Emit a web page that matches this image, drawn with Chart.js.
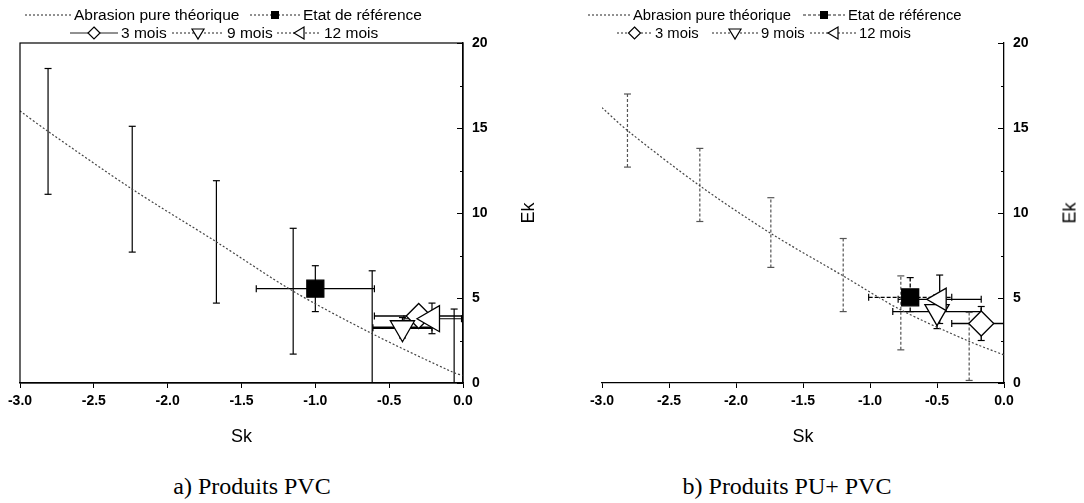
<!DOCTYPE html>
<html>
<head>
<meta charset="utf-8">
<script src="https://cdn.jsdelivr.net/npm/chart.js@4/dist/chart.umd.min.js"></script>
<style>
  body { margin: 0; background: #fff; width: 1084px; height: 503px; overflow: hidden; position: relative;
         font-family: "Liberation Sans", Arial, sans-serif; color: #000; }
  .box { position: absolute; top: 0; }
  .leg { position: absolute; white-space: nowrap; display: flex; align-items: center; line-height: 18px; }
  .leg svg { margin-right: 3px; }
  .ek { position: absolute; font-size: 18px; transform: translate(-50%, -50%) rotate(-90deg); }
  .cap { position: absolute; font-family: "Liberation Serif", "Times New Roman", serif; font-size: 24px;
         transform: translate(-50%, -50%); white-space: nowrap; }
</style>
</head>
<body>
<div class="box" style="left:0px"><canvas id="chartA" width="545" height="460"></canvas></div>
<div class="box" style="left:540px"><canvas id="chartB" width="544" height="460"></canvas></div>
<div class="ek" style="left:528px; top:213px">Ek</div>
<div class="ek" style="left:1070px; top:213px">Ek</div>
<div class="cap" style="left:252px; top:486px">a) Produits PVC</div>
<div class="cap" style="left:787px; top:486px">b) Produits PU+ PVC</div>

<script>
// axes
const xTickLabels = ['-3.0', '-2.5', '-2.0', '-1.5', '-1.0', '-0.5', '0.0'];
const yMajor = [0, 5, 10, 15, 20];
const yMinor = [2.5, 7.5, 12.5, 17.5];

// a) Produits PVC
const curveSkA = [-3.0, -2.81, -2.24, -1.67, -1.15, -0.615, -0.06, 0.0];
const curveEkA = [16.0, 14.8, 11.4, 8.3, 5.4, 2.9, 0.6, 0.45];
const theoSkA = [-2.81, -2.24, -1.67, -1.15, -0.615, -0.06];
const theoEkA = [14.8, 11.4, 8.3, 5.4, 2.9, 0.6];
const theoLoA = [11.1, 7.7, 4.7, 1.7, -0.8, -3.1];
const theoHiA = [18.5, 15.1, 11.9, 9.1, 6.6, 4.35];
// [Sk, Ek, SkLo, SkHi, EkLo, EkHi]
const refA = [-1.0, 5.55, -1.40, -0.60, 4.2, 6.9];
const m3A = [-0.30, 3.94, -0.60, 0.0, 3.45, 4.45];
const m9A = [-0.41, 3.25, -0.61, -0.21, 2.65, 3.85];
const m12A = [-0.21, 3.78, -0.40, -0.01, 2.9, 4.7];

// b) Produits PU+ PVC
const curveSkB = [-3.0, -2.81, -2.27, -1.74, -1.2, -0.77, -0.26, 0.0];
const curveEkB = [16.2, 14.85, 11.6, 8.8, 6.3, 4.3, 2.45, 1.65];
const theoSkB = [-2.81, -2.27, -1.74, -1.2, -0.77, -0.26];
const theoEkB = [14.85, 11.65, 8.85, 6.35, 4.1, 2.15];
const theoLoB = [12.7, 9.5, 6.8, 4.2, 1.95, 0.15];
const theoHiB = [17.0, 13.8, 10.9, 8.5, 6.3, 4.15];
const refB = [-0.70, 5.04, -1.01, -0.39, 4.2, 6.2];
const m3B = [-0.17, 3.5, -0.39, 0.05, 2.5, 4.5];
const m9B = [-0.50, 4.2, -0.83, -0.17, 3.2, 5.2];
const m12B = [-0.48, 4.92, -0.79, -0.17, 3.5, 6.35];

const legendNames = ['Abrasion pure théorique', 'Etat de référence', '3 mois', '9 mois', '12 mois'];

// error bars, drawn under the markers
const errorBars = {
  id: 'errorBars',
  beforeDatasetsDraw(chart) {
    const { ctx, chartArea: a, scales: { x, y } } = chart;
    ctx.save();
    ctx.beginPath();
    ctx.rect(a.left, a.top - 3, a.right - a.left, a.bottom - a.top + 3);
    ctx.clip();
    chart.data.datasets.forEach(ds => {
      const e = ds.err;
      if (!e) return;
      ctx.strokeStyle = e.color;
      ds.data.forEach((p, i) => {
        const px = x.getPixelForValue(p.x), py = y.getPixelForValue(p.y);
        const seg = (x1, y1, x2, y2, dash, w) => {
          ctx.setLineDash(dash); ctx.lineWidth = w;
          ctx.beginPath(); ctx.moveTo(x1, y1); ctx.lineTo(x2, y2); ctx.stroke();
        };
        if (e.yLo) {
          const y1 = y.getPixelForValue(e.yLo[i]), y2 = y.getPixelForValue(e.yHi[i]);
          seg(px, y1, px, y2, e.dash, e.width);
          seg(px - 3.5, y1, px + 3.5, y1, [], 1.2);
          seg(px - 3.5, y2, px + 3.5, y2, [], 1.2);
        }
        if (e.xLo) {
          const x1 = x.getPixelForValue(e.xLo[i]), x2 = x.getPixelForValue(e.xHi[i]);
          seg(x1, py, x2, py, e.dash, e.hwidth || e.width);
          seg(x1, py - 3.5, x1, py + 3.5, [], 1.2);
          seg(x2, py - 3.5, x2, py + 3.5, [], 1.2);
        }
      });
    });
    ctx.restore();
  }
};

// inward ticks on the right axis, optional frame
const axisDeco = {
  id: 'axisDeco',
  afterDraw(chart, args, opts) {
    const { ctx, chartArea: a, scales: { y } } = chart;
    ctx.save();
    ctx.strokeStyle = '#000';
    ctx.lineWidth = 1;
    ctx.setLineDash([]);
    const tick = (v, len) => {
      const py = Math.round(y.getPixelForValue(v)) + 0.5;
      ctx.beginPath(); ctx.moveTo(a.right - len, py); ctx.lineTo(a.right, py); ctx.stroke();
    };
    yMajor.forEach(v => tick(v, 6));
    yMinor.forEach(v => tick(v, 3));
    if (opts.frame) {
      ctx.lineWidth = 1.2;
      ctx.strokeRect(a.left, a.top, a.right - a.left, a.bottom - a.top);
    }
    ctx.restore();
  }
};

function pts(xs, ys) { return xs.map((v, i) => ({ x: v, y: ys[i] })); }

function marker(row, style, radius, rotation, fill, err) {
  return {
    data: [{ x: row[0], y: row[1] }],
    pointStyle: style, pointRadius: radius, pointHoverRadius: radius, rotation: rotation,
    backgroundColor: fill, borderColor: '#000', pointBorderWidth: 1.3,
    err: Object.assign({ xLo: [row[2]], xHi: [row[3]], yLo: [row[4]], yHi: [row[5]] }, err)
  };
}

function makeChart(id, padLeft, yWidth, frame, d) {
  return new Chart(document.getElementById(id), {
    type: 'scatter',
    data: {
      datasets: [
        marker(d.ref, 'rect', 12, 0, '#000', d.refErr),
        marker(d.m12, 'triangle', d.r12, 270, '#fff', d.m12Err),
        marker(d.m9, 'triangle', d.r9, 180, '#fff', d.m9Err),
        marker(d.m3, 'rectRot', 12.5, 0, '#fff', d.m3Err),
        {
          data: pts(d.theoSk, d.theoEk), pointRadius: 0,
          err: { yLo: d.theoLo, yHi: d.theoHi, color: d.theoColor, dash: d.theoDash, width: 1.2 }
        },
        {
          data: pts(d.curveSk, d.curveEk), showLine: true, pointRadius: 0,
          borderColor: '#444', borderWidth: 1.2, borderDash: [2, 2], tension: 0.3
        }
      ]
    },
    options: {
      responsive: false, animation: false, devicePixelRatio: 1,
      layout: { padding: { left: padLeft, top: 43, right: 0, bottom: 0 } },
      plugins: { legend: { display: false }, tooltip: { enabled: false }, axisDeco: { frame: frame } },
      scales: {
        x: {
          type: 'linear', min: -3, max: 0, position: 'bottom',
          afterFit: s => { s.height = 77; },
          ticks: { stepSize: 0.5, maxRotation: 0, padding: 5, color: '#000',
                   font: { family: 'Liberation Sans', size: 14, weight: 'bold' },
                   callback: (v, i) => xTickLabels[i] },
          grid: { drawOnChartArea: false, drawTicks: true, tickLength: 5, color: '#000' },
          border: { color: '#000', width: 1.3 },
          title: { display: true, text: 'Sk', color: '#000', padding: { top: 0, bottom: 12 },
                   font: { family: 'Liberation Sans', size: 18 } }
        },
        y: {
          type: 'linear', min: 0, max: 20, position: 'right',
          afterFit: s => { s.width = yWidth; },
          ticks: { stepSize: 5, padding: 9, color: '#000',
                   font: { family: 'Liberation Sans', size: 14, weight: 'bold' } },
          grid: { display: false, drawTicks: false },
          border: { color: '#000', width: 1.3 }
        }
      }
    },
    plugins: [errorBars, axisDeco]
  });
}

makeChart('chartA', 20, 82, true, {
  curveSk: curveSkA, curveEk: curveEkA,
  theoSk: theoSkA, theoEk: theoEkA, theoLo: theoLoA, theoHi: theoHiA,
  theoColor: '#000', theoDash: [],
  ref: refA, m3: m3A, m9: m9A, m12: m12A, r9: 14, r12: 15,
  refErr: { color: '#000', dash: [], width: 1.2 },
  m3Err: { color: '#000', dash: [], width: 1.3 },
  m9Err: { color: '#000', dash: [], width: 1.3, hwidth: 2.5 },
  m12Err: { color: '#000', dash: [], width: 1.2 }
});

makeChart('chartB', 62, 80, false, {
  curveSk: curveSkB, curveEk: curveEkB,
  theoSk: theoSkB, theoEk: theoEkB, theoLo: theoLoB, theoHi: theoHiB,
  theoColor: '#555', theoDash: [3, 2],
  ref: refB, m3: m3B, m9: m9B, m12: m12B, r9: 14, r12: 13,
  refErr: { color: '#000', dash: [4, 2], width: 1.3 },
  m3Err: { color: '#000', dash: [], width: 1.4 },
  m9Err: { color: '#000', dash: [], width: 1.3 },
  m12Err: { color: '#000', dash: [], width: 1.3 }
});

// legends (HTML, drawn above each chart)
const legendA = [
  { x: 25, y: 15, w: 46, mark: '', dash: '2,2', text: 0 },
  { x: 250, y: 15, w: 50, mark: 'square', dash: '2,2', text: 1 },
  { x: 70, y: 33, w: 48, mark: 'diamond', dash: '', text: 2 },
  { x: 172, y: 33, w: 52, mark: 'down', dash: '2,2', text: 3 },
  { x: 277, y: 33, w: 44, mark: 'left', dash: '2,2', text: 4 }
];
const legendB = [
  { x: 588, y: 15, w: 42, mark: '', dash: '2,2', text: 0 },
  { x: 803, y: 15, w: 42, mark: 'square', dash: '3,2', text: 1 },
  { x: 617, y: 33, w: 35, mark: 'diamond', dash: '2,2', text: 2 },
  { x: 712, y: 33, w: 46, mark: 'down', dash: '2,2', text: 3 },
  { x: 810, y: 33, w: 46, mark: 'left', dash: '2,2', text: 4 }
];

function drawLegend(items, size) {
  items.forEach(it => {
    const d = document.createElement('div');
    d.className = 'leg';
    d.style.left = it.x + 'px';
    d.style.top = (it.y - 9) + 'px';
    d.style.fontSize = size + 'px';
    const w = it.w, c = 9, m = w / 2;
    let mk = '';
    if (it.mark === 'square') mk = `<rect x="${m - 4}" y="${c - 4}" width="8" height="8" fill="#000"/>`;
    if (it.mark === 'diamond') mk = `<polygon points="${m},${c - 6} ${m + 6},${c} ${m},${c + 6} ${m - 6},${c}" fill="#fff" stroke="#000" stroke-width="1.2"/>`;
    if (it.mark === 'down') mk = `<polygon points="${m - 6},${c - 4} ${m + 6},${c - 4} ${m},${c + 6}" fill="#fff" stroke="#000" stroke-width="1.2"/>`;
    if (it.mark === 'left') mk = `<polygon points="${m - 5},${c} ${m + 5},${c - 6} ${m + 5},${c + 6}" fill="#fff" stroke="#000" stroke-width="1.2"/>`;
    d.innerHTML = `<svg width="${w}" height="18"><line x1="0" y1="${c}" x2="${w}" y2="${c}" stroke="#222" stroke-width="1" stroke-dasharray="${it.dash}"/>${mk}</svg><span>${legendNames[it.text]}</span>`;
    document.body.appendChild(d);
  });
}
drawLegend(legendA, 15.5);
drawLegend(legendB, 14.8);
</script>
</body>
</html>
